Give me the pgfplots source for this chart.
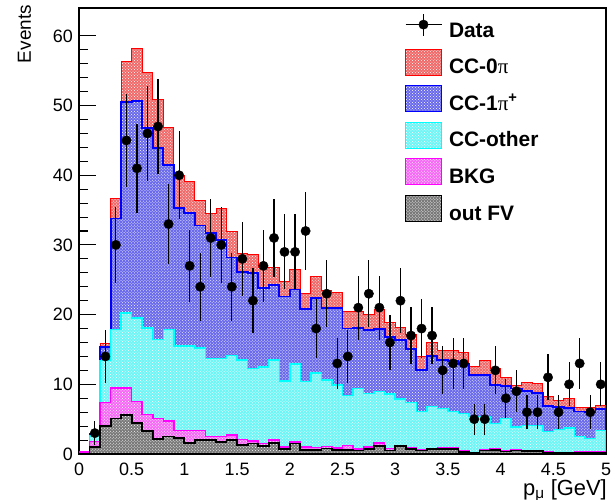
\documentclass[border=0pt]{standalone}
\usepackage{fontspec}
\setmainfont{Liberation Sans}
\newfontfamily\symfont{Liberation Serif}
\usepackage{pgfplots}
\pgfplotsset{compat=1.18}
\usepackage{pgfplotstable}
\usetikzlibrary{patterns}
\definecolor{redfill}{RGB}{240,105,105}
\definecolor{bluefill}{RGB}{105,105,235}
\definecolor{cyanfill}{RGB}{110,245,245}
\definecolor{magfill}{RGB}{245,105,245}
\definecolor{grayfill}{RGB}{120,120,120}
\definecolor{rootred}{RGB}{255,0,0}
\definecolor{rootblue}{RGB}{0,0,255}
\definecolor{rootcyan}{RGB}{0,255,255}
\definecolor{rootmag}{RGB}{255,0,255}

% x = lower bin edge; cumulative stack: G=out FV, M=+BKG, C=+CC-other, B=+CC-1pi, R=+CC-0pi
\pgfplotstableread{
x   G    M    C    B    R
0.0 0.0  0.3  0.3  0.3  0.3
0.1 1.05 1.8  2.6  2.9  3.0
0.2 4.0  7.4  13.4 15.3 15.8
0.3 5.1  9.5  17.9 33.8 36.6
0.4 5.6  9.5  20.2 50.5 56.3
0.5 4.5  7.5  19.5 50.6 58.2
0.6 3.3  5.7  18.1 46.8 54.8
0.7 2.1  5.1  16.4 43.9 50.8
0.8 2.5  4.7  17.9 41.5 46.9
0.9 2.3  3.4  15.5 35.3 40.0
1.0 1.6  3.4  15.5 34.6 39.1
1.1 2.0  3.4  15.2 32.8 36.4
1.2 2.0  2.5  13.7 31.7 34.5
1.3 1.7  2.5  13.7 30.7 35.3
1.4 2.0  2.7  14.1 28.2 32.0
1.5 1.3  2.1  13.5 26.1 28.7
1.6 1.5  1.9  12.3 26.0 28.6
1.7 1.1  1.5  12.5 23.8 26.7
1.8 1.6  2.0  13.5 24.2 26.7
1.9 0.7  1.0  10.5 22.6 24.8
2.0 1.5  1.7  12.9 23.6 26.5
2.1 0.6  1.0  10.4 20.8 23.1
2.2 0.6  0.9  11.6 22.4 25.4
2.3 0.8  1.1  10.6 21.0 23.4
2.4 0.6  0.85 9.9  21.0 23.2
2.5 0.6  1.2  8.4  18.0 20.4
2.6 0.5  0.7  9.4  18.1 20.4
2.7 0.7  1.0  8.7  17.8 20.0
2.8 1.2  1.6  9.0  17.9 20.7
2.9 0.5  0.8  8.6  16.8 18.9
3.0 1.1  1.2  7.9  16.4 18.1
3.1 0.7  0.9  7.4  15.1 17.2
3.2 0.5  0.6  6.1  12.1 14.0
3.3 0.7  0.8  6.8  14.1 16.0
3.4 0.7  0.85 6.5  13.5 14.9
3.5 0.7  0.85 6.1  13.4 14.8
3.6 0.25 0.5  5.8  12.9 14.6
3.7 0.1  0.2  5.4  11.3 12.6
3.8 0.5  0.6  5.4  11.3 13.4
3.9 0.6  0.75 4.4  9.9  12.3
4.0 0.35 0.45 5.1  9.8  11.0
4.1 0.5  0.6  3.9  9.4  9.9
4.2 0.4  0.5  4.1  9.0  10.3
4.3 0.4  0.5  4.1  8.8  10.1
4.4 0.1  0.35 3.2  6.9  8.3
4.5 0.1  0.25 3.5  6.8  7.7
4.6 0.1  0.25 3.7  6.6  7.9
4.7 0.1  0.35 2.5  6.1  6.7
4.8 0.1  0.35 2.2  6.0  6.7
4.9 0.1  0.35 3.4  6.5  6.9
5.0 0.1  0.35 3.4  6.5  6.9
}\hist

\pgfplotstableread{
x    y   e
0.15 3   1.73
0.25 14  3.74
0.35 30  5.48
0.45 45  6.71
0.55 41  6.40
0.65 46  6.78
0.75 47  6.86
0.85 33  5.74
0.95 40  6.32
1.05 27  5.20
1.15 24  4.90
1.25 31  5.57
1.35 30  5.48
1.45 24  4.90
1.55 28  5.29
1.65 22  4.69
1.75 27  5.20
1.85 31  5.57
1.95 29  5.39
2.05 29  5.39
2.15 32  5.66
2.25 18  4.24
2.35 23  4.80
2.45 13  3.61
2.55 14  3.74
2.65 21  4.58
2.75 23  4.80
2.85 21  4.58
2.95 16  4.00
3.05 22  4.69
3.15 17  4.12
3.25 18  4.24
3.35 17  4.12
3.45 12  3.46
3.55 13  3.61
3.65 13  3.61
3.75 5   2.24
3.85 5   2.24
3.95 12  3.46
4.05 8   2.83
4.15 9   3.00
4.25 6   2.45
4.35 6   2.45
4.45 11  3.32
4.55 6   2.45
4.65 10  3.16
4.75 13  3.61
4.85 6   2.45
4.95 10  3.16
}\data

\tikzset{histfill/.style={postaction={pattern=crosshatch dots, pattern color=white}}}

\begin{document}
\begin{tikzpicture}
\path[use as bounding box] (-79bp,-46bp) rectangle (536bp,454bp);
\begin{axis}[
  at={(0,0)}, anchor=south west,
  scale only axis, width=527bp, height=446bp,
  xmin=0, xmax=5, ymin=0, ymax=64,
  xtick={0,0.5,...,5}, minor x tick num=4,
  ytick={0,10,...,60}, minor y tick num=4,
  tick align=inside, xtick pos=bottom, ytick pos=left,
  major tick length=17bp, minor tick length=8.5bp,
  x tick style={/pgfplots/major tick length=12.5bp, /pgfplots/minor tick length=6.3bp},
  tick style={black, line width=1.1bp},
  axis line style={black, line width=1.2bp},
  /pgf/number format/assume math mode=true,
  ticklabel style={font=\fontsize{18}{18}\selectfont},
  yticklabel style={inner sep=0pt, xshift=-6bp},
  xticklabel style={inner sep=0pt, yshift=-9bp},
  legend style={draw=none, fill=none, at={(326bp,441bp)}, anchor=north west,
    inner sep=0pt, outer sep=0pt, row sep=7.6bp, column sep=7bp,
    font=\bfseries\fontsize{21}{21}\selectfont,
    nodes={inner sep=0pt, text height=14bp, text depth=4bp}},
  legend cell align=left,
  legend image code/.code={\draw[#1] (0bp,-6.5bp) rectangle (36bp,19.5bp);},
]
\addplot[const plot, draw=rootred, line width=1bp, fill=redfill, histfill, forget plot] table[x=x,y=R] {\hist} \closedcycle;
\addplot[const plot, draw=rootblue, line width=1.8bp, fill=bluefill, histfill, forget plot] table[x=x,y=B] {\hist} \closedcycle;
\addplot[const plot, draw=rootcyan, line width=1.5bp, fill=cyanfill, histfill, forget plot] table[x=x,y=C] {\hist} \closedcycle;
\addplot[const plot, draw=rootmag, line width=1.5bp, fill=magfill, histfill, forget plot] table[x=x,y=M] {\hist} \closedcycle;
\addplot[const plot, draw=black, line width=1.8bp, fill=grayfill, histfill, forget plot] table[x=x,y=G] {\hist} \closedcycle;
\addplot[only marks, mark=*, mark size=4.7bp, black, forget plot,
  error bars/.cd, y dir=both, y explicit, error mark=none,
  error bar style={line width=1.2bp, black}]
  table[x=x, y=y, y error=e] {\data};

\addlegendimage{legend image code/.code={
  \draw[black, line width=1bp] (0bp,7.5bp) -- (36bp,7.5bp);
  \draw[black, line width=1.2bp] (18bp,-3.5bp) -- (18bp,18.5bp);
  \fill[black] (18bp,7.5bp) circle (4.7bp);}}
\addlegendentry{Data}
\addlegendimage{draw=rootred, line width=1bp, fill=redfill, histfill}
\addlegendentry{CC-0{\symfont\mdseries π}}
\addlegendimage{draw=rootblue, line width=1bp, fill=bluefill, histfill}
\addlegendentry{CC-1{\symfont\mdseries π}\textsuperscript{+}}
\addlegendimage{draw=rootcyan, line width=1bp, fill=cyanfill, histfill}
\addlegendentry{CC-other}
\addlegendimage{draw=rootmag, line width=1bp, fill=magfill, histfill}
\addlegendentry{BKG}
\addlegendimage{draw=black, line width=1bp, fill=grayfill, histfill}
\addlegendentry{out FV}
\end{axis}
\node[rotate=90, anchor=base east, inner sep=0pt, font=\fontsize{19}{19}\selectfont] at (-48bp,449bp) {Events};
\node[anchor=base east, inner sep=0pt, font=\fontsize{22}{22}\selectfont] at (528bp,-41bp) {p\textsubscript{μ} [GeV]};
\end{tikzpicture}
\end{document}
